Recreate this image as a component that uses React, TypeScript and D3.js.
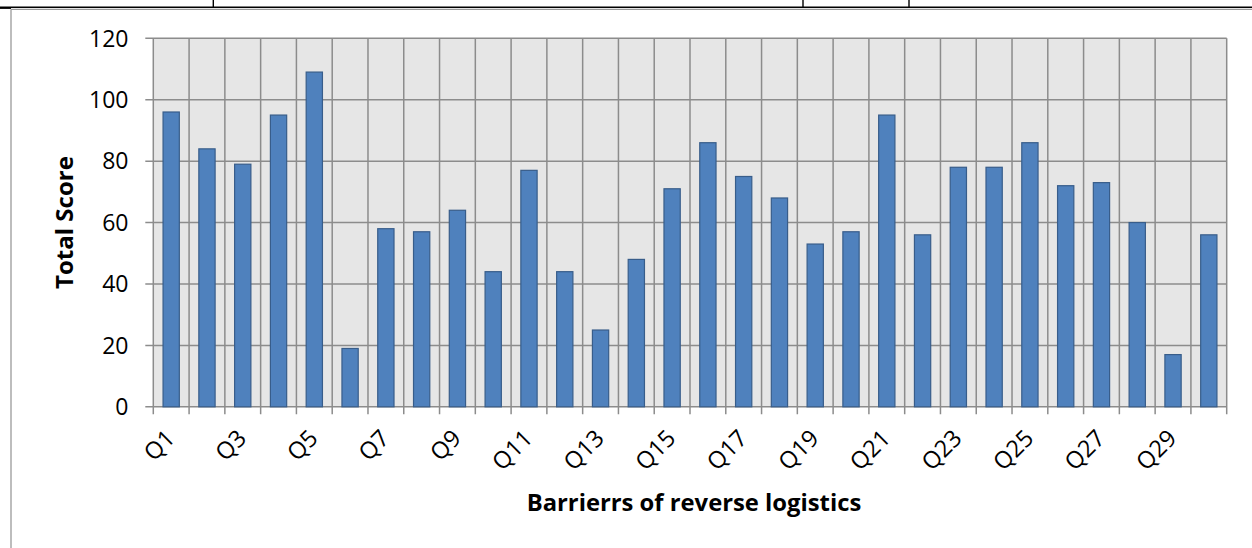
import React from "react";
import * as d3 from "d3";

const categories: string[] = Array.from({ length: 30 }, (_, i) => `Q${i + 1}`);
const scores: number[] = [
  96, 84, 79, 95, 109, 19, 58, 57, 64, 44,
  77, 44, 25, 48, 71, 86, 75, 68, 53, 57,
  95, 56, 78, 78, 86, 72, 73, 60, 17, 56,
];
const yTicks: number[] = [0, 20, 40, 60, 80, 100, 120];
const yTitle = "Total Score";
const xTitle = "Barrierrs of reverse logistics";

const W = 1252;
const H = 548;
const left = 153.3;
const right = 1226.7;
const top = 38.3;
const bottom = 406.8;
const FONT = "'Open Sans', Lato, sans-serif";
const GRID = "#8c8c8c";

export default function App() {
  const x = d3.scaleBand<string>().domain(categories).range([left, right]).paddingInner(0).paddingOuter(0);
  const y = d3.scaleLinear().domain([0, 120]).range([bottom, top]);
  const bw = x.bandwidth();
  const barW = bw / 2.2;
  const boundaries = d3.range(categories.length + 1).map((i) => left + i * bw);

  return (
    <svg
      width={W}
      height={H}
      style={{ position: "absolute", left: 0, top: 0, background: "#fff" }}
      fontFamily={FONT}
    >
      {/* surrounding table lines */}
      <line x1={0} x2={W} y1={7.3} y2={7.3} stroke="#000" strokeWidth={1.4} />
      <line x1={0} x2={11} y1={8.3} y2={8.3} stroke="#000" strokeWidth={1.2} />
      <line x1={213.3} x2={213.3} y1={0} y2={7.3} stroke="#000" strokeWidth={1.4} />
      <line x1={803} x2={803} y1={0} y2={7.3} stroke="#000" strokeWidth={1.4} />
      <line x1={909} x2={909} y1={0} y2={7.3} stroke="#000" strokeWidth={1.4} />
      {/* chart frame */}
      <line x1={11} x2={W} y1={9.3} y2={9.3} stroke="#9a9a9a" strokeWidth={1.3} />
      <line x1={11} x2={11} y1={9.3} y2={H} stroke="#9a9a9a" strokeWidth={1.3} />

      {/* plot area */}
      <rect x={left} y={top} width={right - left} height={bottom - top} fill="#e6e6e6" />
      {yTicks.map((t) => (
        <line key={`hg${t}`} x1={left - 8} x2={right} y1={y(t)} y2={y(t)} stroke={GRID} strokeWidth={1.5} />
      ))}
      {boundaries.map((b, i) => (
        <line key={`vg${i}`} x1={b} x2={b} y1={top} y2={bottom + 7.5} stroke={GRID} strokeWidth={1.5} />
      ))}

      {/* bars */}
      {categories.map((c, i) => (
        <rect
          key={c}
          x={(x(c) as number) + (bw - barW) / 2}
          y={y(scores[i])}
          width={barW}
          height={bottom - y(scores[i])}
          fill="#4f81bd"
          stroke="#385d8a"
          strokeWidth={1.2}
        />
      ))}

      {/* y tick labels */}
      {yTicks.map((t) => (
        <text key={`yl${t}`} x={128.5} y={y(t) + 8.2} textAnchor="end" fontSize={23} fill="#000">
          {t}
        </text>
      ))}

      {/* x tick labels (every other) */}
      {categories.map((c, i) =>
        i % 2 === 0 ? (
          <text
            key={`xl${c}`}
            transform={`translate(${(x(c) as number) + bw / 2 + 5},${bottom + 33}) rotate(-45)`}
            textAnchor="end"
            fontSize={23.5}
            fill="#000"
          >
            {c}
          </text>
        ) : null
      )}

      {/* axis titles */}
      <text
        transform={`translate(73,${(top + bottom) / 2}) rotate(-90)`}
        textAnchor="middle"
        fontSize={24}
        fontWeight="bold"
        fill="#000"
      >
        {yTitle}
      </text>
      <text x={694} y={511} textAnchor="middle" fontSize={23.8} fontWeight="bold" fill="#000">
        {xTitle}
      </text>
    </svg>
  );
}
